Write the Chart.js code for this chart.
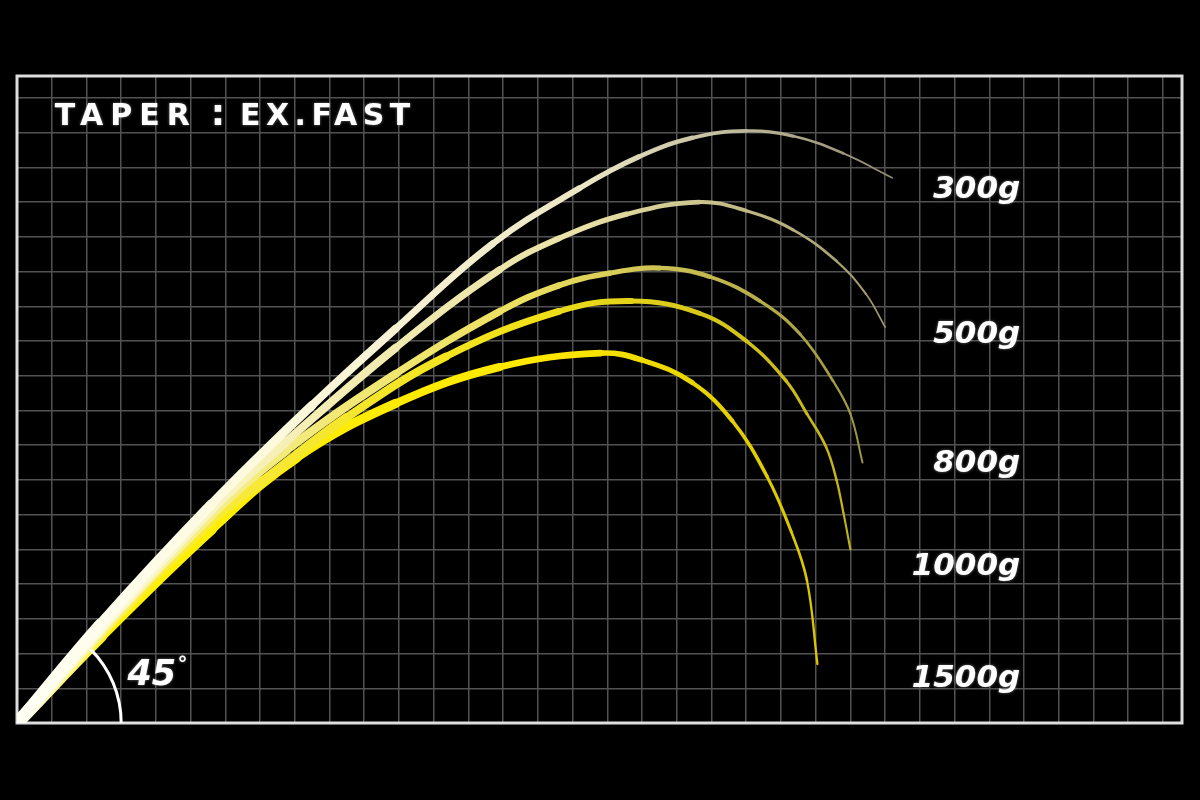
<!DOCTYPE html>
<html>
<head>
<meta charset="utf-8">
<title>TAPER : EX.FAST</title>
<script src="https://cdn.jsdelivr.net/npm/chart.js@4.4.1/dist/chart.umd.min.js"></script>
<style>
  html, body { margin: 0; padding: 0; background: #000; }
  #wrap { width: 1200px; height: 800px; position: relative; }
</style>
</head>
<body>
<div id="wrap"><canvas id="taper-chart"></canvas></div>
<script>
// Title / labels
const titleParts = ["TAPER", ":", "EX.FAST"];
const loadLabels = ["300g", "500g", "800g", "1000g", "1500g"];
const angleText = "45";

// Bend curves (grid units, origin = butt of the rod)
const x300 = [0, 2.4, 5.6, 8.5, 10.9, 13.7, 16.2, 17.9, 19.45, 21.0, 22.35, 23.8, 25.2];
const y300 = [0, 2.85, 6.3, 9.15, 11.35, 13.8, 15.4, 16.3, 16.85, 17.05, 16.9, 16.4, 15.7];

const x500 = [0, 2.4, 5.6, 7.75, 10.9, 13.9, 15.6, 17.55, 19.65, 21.0, 22.35, 23.6, 24.45, 25.0];
const y500 = [0, 2.75, 6.15, 8.1, 10.8, 13.05, 13.95, 14.65, 15.0, 14.75, 14.2, 13.3, 12.35, 11.4];

const x800 = [0, 2.4, 5.6, 7.75, 10.9, 13.9, 15.6, 17.05, 18.5, 19.95, 21.4, 22.55, 23.5, 24.0, 24.35];
const y800 = [0, 2.7, 6.0, 7.85, 10.05, 11.85, 12.6, 12.95, 13.1, 12.85, 12.15, 11.2, 9.85, 8.9, 7.5];

const x1000 = [0, 2.4, 5.6, 7.05, 9.5, 12.35, 15.6, 17.7, 19.65, 21.0, 22.15, 22.75, 23.3, 23.6, 23.8, 24.0];
const y1000 = [0, 2.6, 5.85, 6.95, 8.8, 10.55, 11.85, 12.15, 11.8, 11.0, 9.85, 8.9, 7.95, 7.0, 6.05, 5.0];

const x1500 = [0, 2.4, 5.6, 8.05, 10.9, 13.9, 16.8, 18.0, 19.45, 20.6, 21.6, 22.3, 22.75, 23.05];
const y1500 = [0, 2.5, 5.6, 7.65, 9.2, 10.25, 10.65, 10.45, 9.8, 8.7, 7.1, 5.5, 4.1, 1.7];

const seriesX = [x300, x500, x800, x1000, x1500];
const seriesY = [y300, y500, y800, y1000, y1500];

// styles: gradient stops + line taper (butt -> tip)
const curveStyles = [
  { stops: [[0, "#fffff4"], [0.3, "#fdf9dc"], [0.65, "#ece6c4"], [1, "#8e8a6e"]], w0: 11.5, w1: 1.4 },
  { stops: [[0, "#fffff4"], [0.28, "#f7f1b8"], [0.65, "#e9e1a6"], [1, "#9c9668"]], w0: 11.5, w1: 1.5 },
  { stops: [[0, "#fffff0"], [0.22, "#f6ee88"], [0.6, "#ece060"], [1, "#9e9640"]], w0: 12, w1: 1.8 },
  { stops: [[0, "#fffff0"], [0.16, "#f9ec40"], [0.6, "#f2e21a"], [1, "#c2b21a"]], w0: 12.5, w1: 2 },
  { stops: [[0, "#fffff0"], [0.12, "#fff000"], [0.65, "#ffe900"], [1, "#d8c400"]], w0: 13.5, w1: 2.2 },
];

const gradCache = {};
function curveGradient(chart, i) {
  const area = chart.chartArea;
  const xs = seriesX[i];
  const key = i + ":" + area.left + ":" + area.right;
  if (gradCache[key]) return gradCache[key];
  const endPx = chart.scales.x.getPixelForValue(xs[xs.length - 1]);
  const g = chart.ctx.createLinearGradient(area.left, 0, endPx, 0);
  curveStyles[i].stops.forEach(([o, c]) => g.addColorStop(o, c));
  gradCache[key] = g;
  return g;
}

const datasets = loadLabels.map((name, i) => {
  const xs = seriesX[i];
  const xEnd = xs[xs.length - 1];
  const st = curveStyles[i];
  return {
    label: name,
    data: xs.map((x, k) => ({ x: x, y: seriesY[i][k] })),
    borderColor: (ctx) => (ctx.chart.chartArea ? curveGradient(ctx.chart, i) : st.stops[1][1]),
    borderWidth: st.w0,
    borderCapStyle: "round",
    borderJoinStyle: "round",
    pointRadius: 0,
    fill: false,
    tension: 0.4,
    clip: 0,
    segment: {
      borderWidth: (ctx) => {
        const t = (ctx.p0.parsed.x + ctx.p1.parsed.x) / 2 / xEnd;
        return st.w1 + (st.w0 - st.w1) * Math.pow(1 - t, 0.85);
      },
    },
  };
});

// frame, 45° arc and all texts
const overlayPlugin = {
  id: "taperOverlay",
  beforeDatasetsDraw(chart) {
    const { ctx, chartArea: a } = chart;
    ctx.save();
    ctx.strokeStyle = "#dedede";
    ctx.lineWidth = 3;
    ctx.strokeRect(a.left, a.top, a.right - a.left, a.bottom - a.top);
    ctx.restore();
  },
  afterDatasetsDraw(chart) {
    const { ctx, scales: { x, y } } = chart;
    const x0 = x.getPixelForValue(0);
    const y0 = y.getPixelForValue(0);
    const r = x.getPixelForValue(3) - x0;
    ctx.save();

    // angle arc
    ctx.strokeStyle = "#ffffff";
    ctx.lineWidth = 3;
    ctx.beginPath();
    ctx.arc(x0, y0, r, -Math.PI / 4, 0);
    ctx.stroke();

    ctx.fillStyle = "#ffffff";
    ctx.shadowColor = "rgba(255,255,255,0.45)";
    ctx.shadowBlur = 3;
    ctx.textBaseline = "alphabetic";

    // 45°
    ctx.textAlign = "left";
    ctx.font = 'italic bold 35px "DejaVu Sans"';
    ctx.fillText(angleText, x.getPixelForValue(3.18), y.getPixelForValue(1.08));
    ctx.font = 'bold 20px "DejaVu Sans"';
    ctx.fillText("°", x.getPixelForValue(4.62), y.getPixelForValue(1.52));

    // load labels
    ctx.textAlign = "right";
    ctx.font = 'italic bold 31px "DejaVu Sans"';
    const labelY = [15.12, 10.94, 7.23, 4.26, 1.04];
    loadLabels.forEach((t, i) => {
      ctx.fillText(t, x.getPixelForValue(28.89), y.getPixelForValue(labelY[i]));
    });

    // title
    ctx.font = 'bold 30px "DejaVu Sans"';
    ctx.letterSpacing = "7px";
    ctx.textAlign = "left";
    const ty = y.getPixelForValue(17.22);
    ctx.fillText(titleParts[0], x.getPixelForValue(1.09), ty);
    ctx.letterSpacing = "5.5px";
    ctx.fillText(titleParts[2], x.getPixelForValue(6.42), ty);
    ctx.letterSpacing = "0px";
    ctx.textAlign = "center";
    ctx.font = 'bold 36px "DejaVu Sans"';
    ctx.fillText(titleParts[1], x.getPixelForValue(5.79), ty);

    ctx.restore();
  },
};

const gridLines = { color: "#525252", lineWidth: 1.5, drawTicks: false };

new Chart(document.getElementById("taper-chart"), {
  type: "line",
  data: { datasets: datasets },
  options: {
    responsive: true,
    maintainAspectRatio: false,
    animation: false,
    events: [],
    layout: { padding: { left: 17, right: 18, top: 76, bottom: 77 } },
    plugins: { legend: { display: false }, tooltip: { enabled: false }, title: { display: false } },
    scales: {
      x: {
        type: "linear",
        min: 0,
        max: 33.55,
        ticks: { display: false, stepSize: 1, includeBounds: false },
        grid: gridLines,
        border: { display: false },
      },
      y: {
        type: "linear",
        min: 0,
        max: 18.63,
        ticks: { display: false, stepSize: 1, includeBounds: false },
        grid: gridLines,
        border: { display: false },
      },
    },
  },
  plugins: [overlayPlugin],
});
</script>
</body>
</html>
